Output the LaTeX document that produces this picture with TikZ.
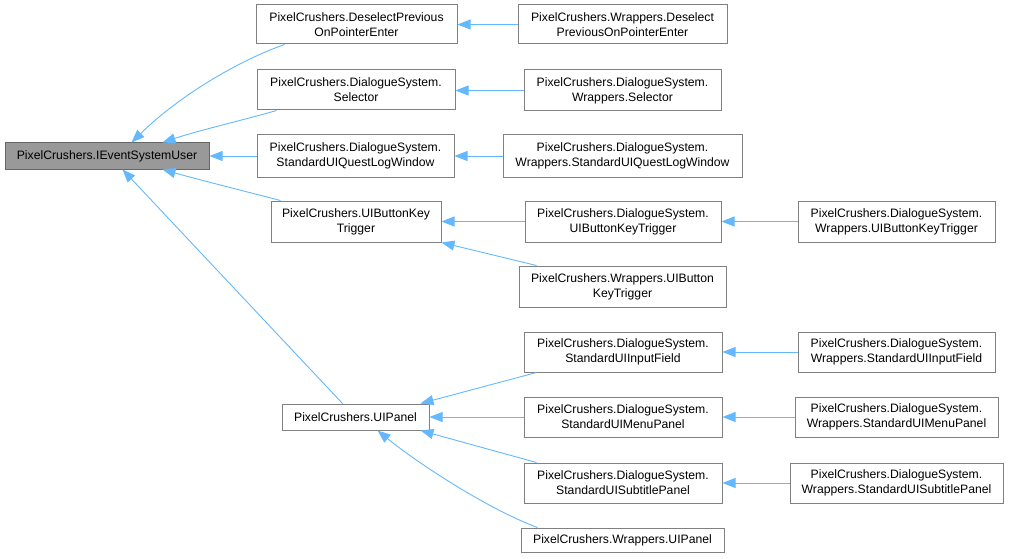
\documentclass[tikz,border=0pt]{standalone}
\usepackage{fontspec}
\setmainfont{Liberation Sans}
\usetikzlibrary{arrows.meta,calc}
\definecolor{edgeblue}{HTML}{63B8FF}
\definecolor{boxline}{HTML}{808080}
\definecolor{rootfill}{HTML}{999999}
\tikzset{
  box/.style={draw=boxline, line width=1pt, fill=white, align=center, inner sep=0pt,
    font=\fontsize{12.2}{15.2}\selectfont},
  rootbox/.style={box, fill=rootfill, draw=boxline!80!black},
  edge/.style={draw=edgeblue, line width=0.9pt, -{Triangle[length=13pt,width=10pt]}},
}
\newcommand{\bx}[6]{% name, x1, y1, x2, y2, text
  \node[box, minimum width={(#4-#2)*1pt}, minimum height={(#5-#3)*1pt}] (#1) at ({(#2+#4)/2},{(#3+#5)/2}) {#6};}
\begin{document}
\begin{tikzpicture}[x=1pt,y=-1pt]
\useasboundingbox (0,0) rectangle (1009,559);
% root
\node[rootbox, minimum width=204pt, minimum height=26pt] (root) at (107,156) {PixelCrushers.IEventSystemUser};
% column 2
\bx{desel}{256}{5}{457}{44}{PixelCrushers.DeselectPrevious\\OnPointerEnter}
\bx{sel}{257}{70}{455}{110}{PixelCrushers.DialogueSystem.\\Selector}
\bx{ql}{257}{135}{454}{177}{PixelCrushers.DialogueSystem.\\StandardUIQuestLogWindow}
\bx{bkt}{271}{201}{441}{242}{PixelCrushers.UIButtonKey\\Trigger}
\bx{panel}{282}{404}{429}{430}{PixelCrushers.UIPanel}
% column 3
\bx{wdesel}{518}{5}{727}{44}{PixelCrushers.Wrappers.Deselect\\PreviousOnPointerEnter}
\bx{wsel}{524}{70}{721}{111}{PixelCrushers.DialogueSystem.\\Wrappers.Selector}
\bx{wql}{503}{135}{742}{177}{PixelCrushers.DialogueSystem.\\Wrappers.StandardUIQuestLogWindow}
\bx{dsbkt}{525}{201}{721}{242}{PixelCrushers.DialogueSystem.\\UIButtonKeyTrigger}
\bx{wbkt}{519}{266}{726}{307}{PixelCrushers.Wrappers.UIButton\\KeyTrigger}
\bx{inp}{524}{332}{722}{372}{PixelCrushers.DialogueSystem.\\StandardUIInputField}
\bx{menu}{524}{397}{722}{437}{PixelCrushers.DialogueSystem.\\StandardUIMenuPanel}
\bx{sub}{524}{463}{722}{503}{PixelCrushers.DialogueSystem.\\StandardUISubtitlePanel}
\bx{wpanel}{521}{528}{724}{552}{PixelCrushers.Wrappers.UIPanel}
% column 4
\bx{wdsbkt}{798}{201}{995}{242}{PixelCrushers.DialogueSystem.\\Wrappers.UIButtonKeyTrigger}
\bx{winp}{798}{332}{995}{372}{PixelCrushers.DialogueSystem.\\Wrappers.StandardUIInputField}
\bx{wmenu}{795}{397}{998}{437}{PixelCrushers.DialogueSystem.\\Wrappers.StandardUIMenuPanel}
\bx{wsub}{790}{463}{1003}{503}{PixelCrushers.DialogueSystem.\\Wrappers.StandardUISubtitlePanel}
% edges to root
\draw[edge] ($(desel.south west)+(29,0)$) .. controls (240,60) and (180,95) .. ($(root.north west)+(127,0)$);
\draw[edge] ($(sel.south west)+(20,0)$) .. controls (240,121) and (200,130) .. ($(root.north west)+(158,0)$);
\draw[edge] (ql.west) -- (root.east);
\draw[edge] ($(bkt.north west)+(10,0)$) .. controls (240,190) and (200,180) .. ($(root.south west)+(158,0)$);
\draw[edge] ($(panel.north west)+(61,0)$) -- ($(root.south west)+(118,0)$);
% horizontal edges
\draw[edge] (wdesel.west) -- (desel.east);
\draw[edge] (wsel.west) -- (sel.east |- wsel.west);
\draw[edge] (wql.west) -- (ql.east);
\draw[edge] (dsbkt.west) -- (bkt.east);
\draw[edge] (wdsbkt.west) -- (dsbkt.east);
\draw[edge] ($(wbkt.north west)+(18,0)$) -- (bkt.south east);
\draw[edge] ($(inp.south west)+(13,0)$) -- ($(panel.north east)+(-9,0)$);
\draw[edge] (menu.west) -- (panel.east);
\draw[edge] ($(sub.north west)+(13,0)$) -- ($(panel.south east)+(-9,0)$);
\draw[edge] ($(wpanel.north west)+(17,0)$) .. controls (490,510) and (420,465) .. ($(panel.south west)+(96,0)$);
\draw[edge] (winp.west) -- (inp.east);
\draw[edge] (wmenu.west) -- (menu.east);
\draw[edge] (wsub.west) -- (sub.east);
\end{tikzpicture}
\end{document}
